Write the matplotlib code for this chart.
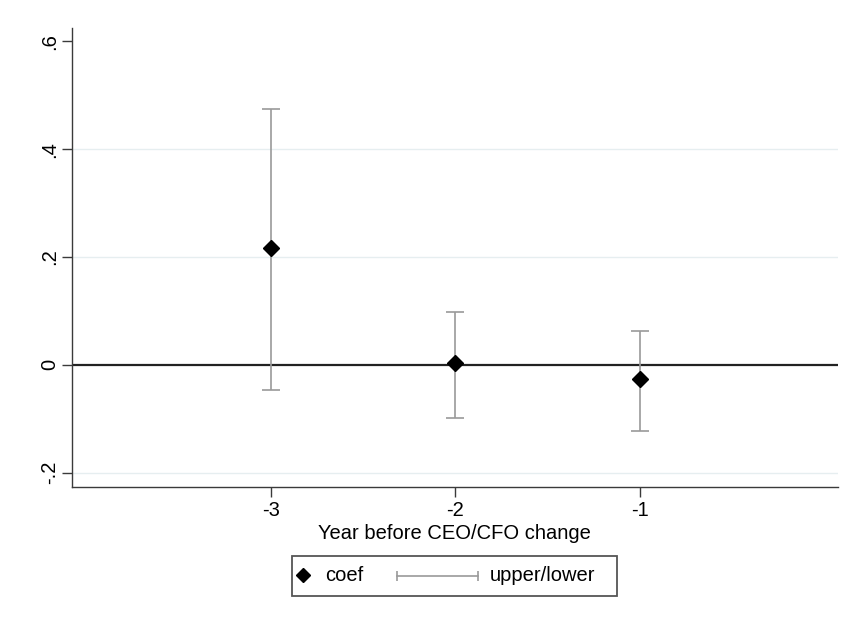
import matplotlib
matplotlib.use("Agg")
import matplotlib.pyplot as plt
from matplotlib.lines import Line2D
from matplotlib.patches import Rectangle
import numpy as np

plt.rcParams['font.family'] = ['Liberation Sans', 'DejaVu Sans']

# data
years = [-3, -2, -1]
coef = [0.217, 0.003, -0.027]
upper = [0.474, 0.099, 0.063]
lower = [-0.046, -0.098, -0.122]
yticks = [-0.2, 0, 0.2, 0.4, 0.6]
ytick_labels = ['-.2', '0', '.2', '.4', '.6']

grey = '#9a9a9a'
axis_col = '#3a3a3a'

fig = plt.figure(figsize=(8.47, 6.21), dpi=100)
ax = fig.add_axes([0.0847, 0.2163, 0.9047, 0.7386])

# light horizontal grid (not on the top tick)
for yv in [-0.2, 0.2, 0.4]:
    ax.axhline(yv, color='#e6eef0', lw=1.0, zorder=0)
ax.axhline(0, color='#222222', lw=1.6, zorder=1)

yerr = [np.array(coef) - np.array(lower), np.array(upper) - np.array(coef)]
ax.errorbar(years, coef, yerr=yerr, fmt='none', ecolor=grey, elinewidth=1.2,
            capsize=6.5, capthick=1.2, zorder=2)
ax.plot(years, coef, ls='none', marker='D', ms=8.5, color='black', zorder=3)

ax.set_xlim(-4.077, 0.072)
ax.set_ylim(-0.226, 0.625)
ax.set_xticks(years)
ax.set_xticklabels(['-3', '-2', '-1'])
ax.set_yticks(yticks)
ax.set_yticklabels(ytick_labels, rotation=90, va='center')
ax.tick_params(axis='both', labelsize=14.5, color=axis_col, width=1.0)
ax.tick_params(axis='y', length=7, pad=2)
ax.tick_params(axis='x', length=7, pad=3)
ax.set_xlabel('Year before CEO/CFO change', fontsize=14.5, labelpad=3)

for s in ['top', 'right']:
    ax.spines[s].set_visible(False)
for s in ['left', 'bottom']:
    ax.spines[s].set_color(axis_col)
    ax.spines[s].set_linewidth(1.0)

# legend drawn by hand, Stata style
W, H = 847.0, 621.0
def fx(px):
    return px / W
def fy(py):
    return 1 - py / H

fig.add_artist(Rectangle((fx(291.7), fy(595.7)), fx(616.7) - fx(291.7), fy(556) - fy(595.7),
                         transform=fig.transFigure, fill=False, ec='#555555', lw=1.3))
fig.add_artist(Line2D([fx(302.5)], [fy(574.5)], ls='none', marker='D', ms=7.5,
                      color='black', transform=fig.transFigure))
fig.text(fx(325), fy(575.5), 'coef', fontsize=14.5, va='center', ha='left')
fig.add_artist(Line2D([fx(397), fx(478)], [fy(575.5), fy(575.5)], color=grey, lw=1.2,
                      transform=fig.transFigure))
fig.add_artist(Line2D([fx(397), fx(478)], [fy(575.5), fy(575.5)], ls='none', marker='|',
                      ms=7, mew=1.2, color=grey, transform=fig.transFigure))
fig.text(fx(490), fy(575.5), 'upper/lower', fontsize=14.5, va='center', ha='left')

fig.savefig('out.png', dpi=100, facecolor='white')
